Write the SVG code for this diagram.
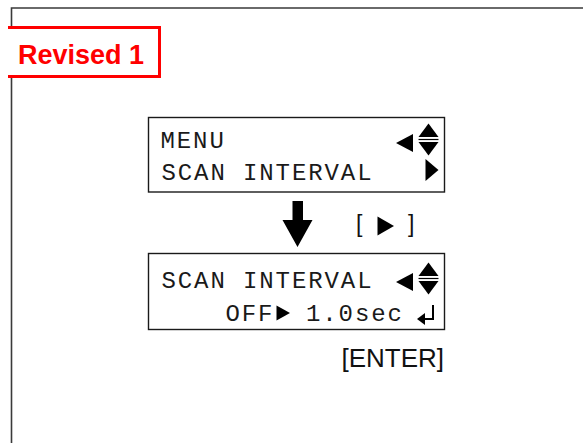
<svg xmlns="http://www.w3.org/2000/svg" width="583" height="443" viewBox="0 0 583 443">
<style>
.frame{fill:none;stroke:#3a3a3a;stroke-width:1.6}
.lcd{fill:#fff;stroke:#1a1a1a;stroke-width:1.4}
.mono{font-family:"Liberation Mono","DejaVu Sans Mono",monospace;font-size:24px;letter-spacing:1.9px;fill:#1a1a1a}
.sans{font-family:"Liberation Sans",Arial,sans-serif;fill:#111}
.tri{fill:#000}
</style>
<rect width="583" height="443" fill="#fff"/>
<path class="frame" d="M11.5,443 V8 H583"/>
<g id="revised">
<rect x="8" y="27.5" width="151.5" height="49" fill="#fff"/>
<path d="M8,27.5 H159.5 V76.5 H8" fill="none" stroke="#ff0000" stroke-width="3"/>
<text x="18" y="63.5" font-family="Liberation Sans,Arial,sans-serif" font-weight="bold" font-size="27" fill="#ff0000">Revised 1</text>
</g>
<g id="lcd1">
<rect class="lcd" x="148.5" y="117.5" width="296" height="74.5"/>
<text class="mono" x="160.5" y="148">MENU</text>
<text class="mono" x="161.5" y="180">SCAN INTERVAL</text>
<polygon class="tri" points="396,143 413,134 413,152"/>
<polygon class="tri" points="428.5,123.5 438.5,137 418.5,137"/>
<line x1="418.5" y1="139.5" x2="438.5" y2="139.5" stroke="#000" stroke-width="1.2"/>
<polygon class="tri" points="418.5,142 438.5,142 428.5,155.5"/>
<polygon class="tri" points="425.5,159 438.5,170 425.5,181"/>
</g>
<g id="connectors">
<polygon class="tri" points="292.5,201 303,201 303,220 312.5,220 297.5,247 282.5,220 292.5,220"/>
</g>
<g id="key-right">
<text class="sans" x="356" y="232" font-size="23">[</text>
<polygon class="tri" points="377.5,216.5 394,226 377.5,235.5"/>
<text class="sans" x="408" y="232" font-size="23">]</text>
</g>
<g id="lcd2">
<rect class="lcd" x="148.5" y="253.5" width="296" height="76"/>
<text class="mono" x="161.5" y="288">SCAN INTERVAL</text>
<polygon class="tri" points="396,282 413,273 413,291"/>
<polygon class="tri" points="428.5,262.5 438.5,276 418.5,276"/>
<line x1="418.5" y1="278.5" x2="438.5" y2="278.5" stroke="#000" stroke-width="1.2"/>
<polygon class="tri" points="418.5,281 438.5,281 428.5,294.5"/>
<text class="mono" x="225.5" y="320.5">OFF</text>
<polygon class="tri" points="276.5,305.5 290,313 276.5,320.5"/>
<text class="mono" x="306" y="320.5">1.0sec</text>
<path d="M433,305 V319 H424" fill="none" stroke="#000" stroke-width="2"/>
<polygon class="tri" points="417,319 425,313 425,325"/>
</g>
<g id="key-enter">
<text class="sans" x="444" y="367" font-size="26" text-anchor="end">[ENTER]</text>
</g>
</svg>
